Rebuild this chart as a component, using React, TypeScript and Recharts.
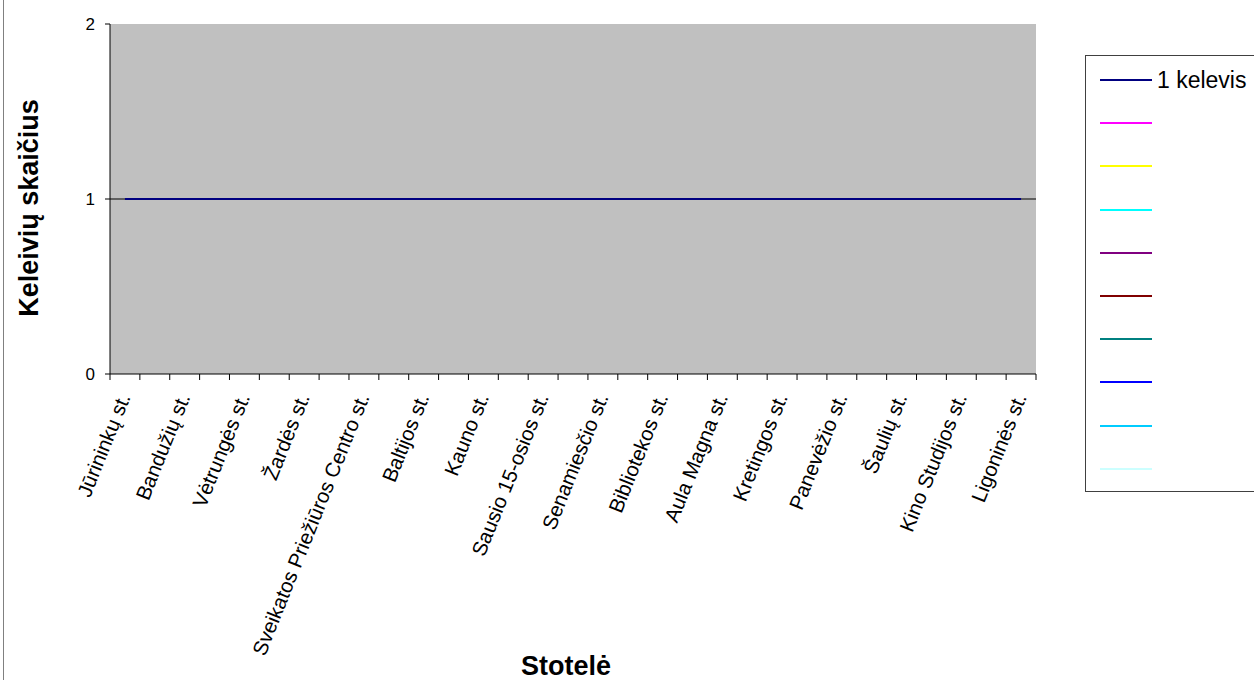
import { LineChart, Line, XAxis, YAxis, CartesianGrid } from 'recharts'

// stops along the route; "" = stop whose label Excel skipped
const STOPS = [
  'Jūrininkų st.', '', 'Bandužių st.', '', 'Vėtrungės st.', '', 'Žardės st.', '',
  'Sveikatos Priežiūros Centro st.', '', 'Baltijos st.', '', 'Kauno st.', '',
  'Sausio 15-osios st.', '', 'Senamiesčio st.', '', 'Bibliotekos st.', '',
  'Aula Magna st.', '', 'Kretingos st.', '', 'Panevėžio st.', '', 'Šaulių st.', '',
  'Kino Studijos st.', '', 'Ligoninės st.',
]
const ONE_PASSENGER = [1, 1, 1, 1, 1, 1, 1, 1, 1, 1, 1, 1, 1, 1, 1, 1, 1, 1, 1, 1, 1, 1, 1, 1, 1, 1, 1, 1, 1, 1, 1]
const SERIES_NAMES = ['1 kelevis', '', '', '', '', '', '', '', '', '']
const SERIES_COLORS = ['#000080', '#FF00FF', '#FFFF00', '#00FFFF', '#800080', '#800000', '#008080', '#0000FF', '#00CCFF', '#CCFFFF']
const Y_TICKS = [0, 1, 2]
const GRID_VALUES = [1]

const W = 1254
const H = 680
const PLOT_LEFT = 110
const PLOT_RIGHT = 1036
const PLOT_TOP = 24
const PLOT_BOTTOM = 374
const BAND = (PLOT_RIGHT - PLOT_LEFT) / STOPS.length
const FONT = '"Liberation Sans", Arial, sans-serif'

const data = STOPS.map((stop, i) => ({ pos: `p${i}`, stop, s0: ONE_PASSENGER[i] }))

function StopTick(props: any) {
  const { x, index } = props
  const label = STOPS[index]
  const left = x - BAND / 2
  const last = index === STOPS.length - 1
  const tx = x + 6
  const ty = PLOT_BOTTOM + 23
  return (
    <g>
      <line x1={left} x2={left} y1={PLOT_BOTTOM} y2={PLOT_BOTTOM + 6} stroke="#000" />
      {last && <line x1={x + BAND / 2} x2={x + BAND / 2} y1={PLOT_BOTTOM} y2={PLOT_BOTTOM + 6} stroke="#000" />}
      {label && (
        <text
          x={tx}
          y={ty}
          textAnchor="end"
          fontSize={20.5}
          fontFamily={FONT}
          fill="#000"
          transform={`rotate(-68 ${tx} ${ty})`}
        >
          {label}
        </text>
      )}
    </g>
  )
}

function ValueTick(props: any) {
  const { x, y, payload } = props
  return (
    <text x={x} y={y} dy={6} textAnchor="end" fontSize={17} fontFamily={FONT} fill="#000">
      {payload.value}
    </text>
  )
}

function SeriesLegend() {
  return (
    <div
      style={{
        position: 'absolute', left: 1085, top: 55, width: 200, height: 437,
        border: '1px solid #404040', boxSizing: 'border-box', background: '#fff', fontFamily: FONT,
      }}
    >
      {SERIES_NAMES.map((name, i) => (
        <div key={i} style={{ position: 'absolute', left: 14, top: 23 + i * 43.2, height: 2, display: 'flex', alignItems: 'center' }}>
          <div style={{ width: 52, height: 2, background: SERIES_COLORS[i] }} />
          <span style={{ marginLeft: 5, fontSize: 23, color: '#000', whiteSpace: 'nowrap' }}>{name}</span>
        </div>
      ))}
    </div>
  )
}

export default function App() {
  return (
    <div style={{ position: 'absolute', left: 0, top: 0, width: W, height: H, overflow: 'hidden', background: '#fff' }}>
      <div style={{ position: 'absolute', left: 3, top: 0, width: 1, height: H, background: '#808080' }} />
      <LineChart
        width={W}
        height={H}
        data={data}
        margin={{ top: PLOT_TOP, right: W - PLOT_RIGHT, bottom: 0, left: 0 }}
      >
        <CartesianGrid
          fill="#C0C0C0"
          fillOpacity={1}
          vertical={false}
          stroke="#000"
          horizontalValues={GRID_VALUES}
        />
        <XAxis
          dataKey="pos"
          type="category"
          interval={0}
          padding={{ left: BAND / 2, right: BAND / 2 }}
          tick={StopTick}
          tickLine={false}
          tickSize={0}
          tickMargin={0}
          axisLine={{ stroke: '#000' }}
          height={H - PLOT_BOTTOM}
        />
        <XAxis
          xAxisId="top"
          orientation="top"
          dataKey="pos"
          height={0}
          tick={false}
          tickLine={false}
          axisLine={{ stroke: '#808080' }}
        />
        <YAxis
          domain={[0, 2]}
          ticks={Y_TICKS}
          width={PLOT_LEFT}
          tickSize={5}
          tickMargin={10}
          tick={ValueTick}
          tickLine={{ stroke: '#000' }}
          axisLine={{ stroke: '#000' }}
        />
        <YAxis
          yAxisId="right"
          orientation="right"
          domain={[0, 2]}
          width={0}
          tick={false}
          tickLine={false}
          axisLine={{ stroke: '#808080' }}
        />
        {SERIES_NAMES.map((name, i) => (
          <Line
            key={i}
            dataKey={`s${i}`}
            name={name}
            stroke={SERIES_COLORS[i]}
            strokeWidth={2}
            dot={false}
            isAnimationActive={false}
          />
        ))}
      </LineChart>
      <SeriesLegend />
      <svg width={W} height={H} style={{ position: 'absolute', left: 0, top: 0, pointerEvents: 'none' }}>
        <text x={566} y={675} textAnchor="middle" fontSize={27} fontWeight="bold" fontFamily={FONT} fill="#000">
          Stotelė
        </text>
        <text
          x={38}
          y={208}
          textAnchor="middle"
          fontSize={27}
          fontWeight="bold"
          fontFamily={FONT}
          fill="#000"
          transform="rotate(-90 38 208)"
        >
          Keleivių skaičius
        </text>
      </svg>
    </div>
  )
}
